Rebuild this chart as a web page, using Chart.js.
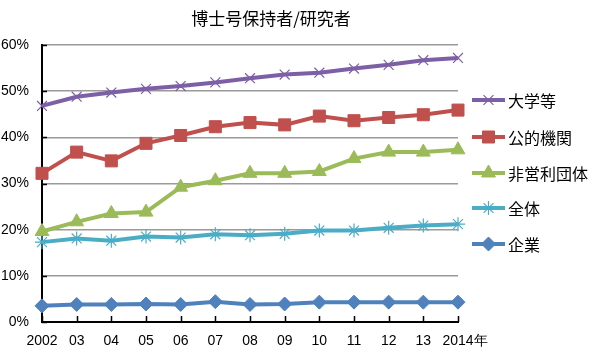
<!DOCTYPE html>
<html>
<head>
<meta charset="utf-8">
<script src="https://cdn.jsdelivr.net/npm/chart.js@4/dist/chart.umd.min.js"></script>
<style>
  html, body { margin: 0; padding: 0; background: #fff; }
  #wrap { width: 600px; height: 355px; position: relative; }
</style>
</head>
<body>
<div id="wrap"><canvas id="c" width="600" height="355"></canvas></div>
<script>
const chartTitle = '博士号保持者/研究者';
const years = ['2002','03','04','05','06','07','08','09','10','11','12','13','2014年'];
const yTicks = [0, 10, 20, 30, 40, 50, 60];

const seriesNames = ['大学等', '公的機関', '非営利団体', '全体', '企業'];
const univ      = [46.8, 48.8, 49.7, 50.5, 51.1, 51.9, 52.8, 53.6, 54.0, 54.9, 55.7, 56.7, 57.2];
const publicOrg = [32.2, 36.8, 34.9, 38.7, 40.4, 42.3, 43.2, 42.7, 44.6, 43.6, 44.3, 44.9, 45.9];
const nonprofit = [19.6, 21.7, 23.5, 23.8, 29.2, 30.6, 32.2, 32.2, 32.6, 35.4, 36.8, 36.8, 37.3];
const overall   = [17.3, 18.1, 17.6, 18.5, 18.3, 19.0, 18.8, 19.1, 19.8, 19.8, 20.4, 20.9, 21.2];
const corp      = [3.5, 3.8, 3.8, 3.9, 3.8, 4.4, 3.8, 3.9, 4.3, 4.3, 4.3, 4.3, 4.3];

const styles = [
  { color: '#7D5FA6', point: 'crossRot', radius: 7, pbw: 1.2 },
  { color: '#C0504D', point: 'rect', radius: 8.5, pbw: 1 },
  { color: '#9BBB59', point: 'triangle', radius: 8, pbw: 1 },
  { color: '#4BACC6', point: 'star', radius: 7, pbw: 1.2 },
  { color: '#4F81BD', point: 'rectRot', radius: 7, pbw: 1 }
];
const allData = [univ, publicOrg, nonprofit, overall, corp];

const datasets = allData.map((d, i) => ({
  label: seriesNames[i],
  data: d,
  borderColor: styles[i].color,
  backgroundColor: styles[i].color,
  borderWidth: 4,
  pointStyle: styles[i].point,
  pointRadius: styles[i].radius,
  pointBorderWidth: styles[i].pbw,
  pointBorderColor: styles[i].color,
  pointBackgroundColor: styles[i].color,
  tension: 0,
  clip: false
})).reverse();

const CJK = '"Noto Sans CJK JP", "Noto Sans", sans-serif';
const LAT = '"Liberation Sans", Arial, sans-serif';

const titlePlugin = {
  id: 'customTitle',
  afterDraw(chart) {
    const ctx = chart.ctx;
    ctx.save();
    ctx.font = '17px ' + CJK;
    ctx.fillStyle = '#000';
    ctx.textAlign = 'center';
    ctx.textBaseline = 'middle';
    ctx.fillText(chartTitle, 271, 19);
    ctx.restore();
  }
};

// inward tick marks on both axes
const innerTicksPlugin = {
  id: 'innerTicks',
  beforeDatasetsDraw(chart) {
    const ctx = chart.ctx;
    const xs = chart.scales.x, ys = chart.scales.y;
    const area = chart.chartArea;
    ctx.save();
    ctx.strokeStyle = '#000';
    ctx.lineWidth = 1.5;
    ctx.beginPath();
    for (let i = 0; i < years.length; i++) {
      const px = Math.round(xs.getPixelForTick(i)) + 0.5;
      ctx.moveTo(px, area.bottom);
      ctx.lineTo(px, area.bottom - 6);
    }
    yTicks.forEach(v => {
      const py = Math.round(ys.getPixelForValue(v)) + 0.5;
      ctx.moveTo(area.left, py);
      ctx.lineTo(area.left + 5, py);
    });
    ctx.stroke();
    ctx.restore();
  }
};

function drawMarker(ctx, style, x, y) {
  Chart.helpers.drawPoint(ctx, {
    pointStyle: style.point, radius: style.radius, borderWidth: style.pbw, rotation: 0
  }, x, y);
}

const legendPlugin = {
  id: 'customLegend',
  afterDraw(chart) {
    const ctx = chart.ctx;
    ctx.save();
    const ys = [100, 137, 173, 208, 244];
    seriesNames.forEach((name, i) => {
      const y = ys[i];
      const s = styles[i];
      ctx.strokeStyle = s.color;
      ctx.lineWidth = 4;
      ctx.beginPath();
      ctx.moveTo(472, y);
      ctx.lineTo(505, y);
      ctx.stroke();
      ctx.fillStyle = s.color;
      ctx.strokeStyle = s.color;
      ctx.lineWidth = s.pbw;
      drawMarker(ctx, s, 488.5, y);
      ctx.fillStyle = '#000';
      ctx.font = '16px ' + CJK;
      ctx.textAlign = 'left';
      ctx.textBaseline = 'middle';
      ctx.fillText(name, 508, y + 1);
    });
    ctx.restore();
  }
};

new Chart(document.getElementById('c'), {
  type: 'line',
  data: { labels: years, datasets: datasets },
  options: {
    responsive: false,
    animation: false,
    devicePixelRatio: 1,
    layout: { padding: { left: 0, top: 45, right: 142, bottom: 0 } },
    plugins: {
      legend: { display: false },
      title: { display: false },
      tooltip: { enabled: false }
    },
    scales: {
      x: {
        offset: false,
        grid: { display: false, drawTicks: false },
        border: { display: true, color: '#000', width: 2 },
        ticks: {
          color: '#000',
          font: { family: LAT, size: 14 },
          padding: 11,
          maxRotation: 0,
          autoSkip: false,
          callback(value, index) {
            const l = years[index];
            return l.endsWith('年') ? '\u2003' + l : l;
          }
        },
        afterFit(scale) { scale.height = 33; }
      },
      y: {
        min: 0,
        max: 60,
        afterBuildTicks(scale) { scale.ticks = yTicks.map(v => ({ value: v })); },
        grid: {
          color: '#9a9a9a',
          lineWidth: 1.5,
          drawTicks: false
        },
        border: { display: true, color: '#000', width: 2 },
        ticks: {
          color: '#000',
          font: { family: LAT, size: 14 },
          padding: 13,
          callback: v => v + '%'
        },
        afterFit(scale) { scale.width = 42; }
      }
    }
  },
  plugins: [titlePlugin, innerTicksPlugin, legendPlugin]
});
</script>
</body>
</html>
